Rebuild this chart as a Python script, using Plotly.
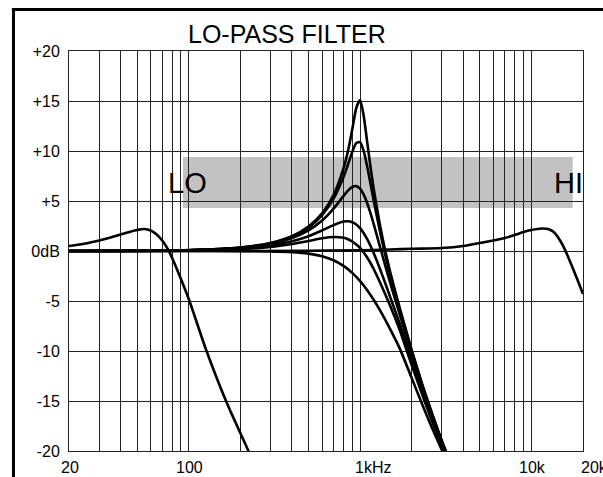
import math
import plotly.graph_objects as go

# ---------------- data ----------------
# Low-frequency lo-pass curve (LO)
lo_freq = [20, 25, 30, 35, 40, 45, 50, 55, 60, 65, 70, 76, 80, 90, 100, 127, 165, 223, 250]
lo_db = [0.5, 0.75, 1.05, 1.35, 1.65, 1.9, 2.1, 2.2, 2.05, 1.65, 1.05, 0.1, -0.7, -2.8, -4.8, -10.0, -15.0, -20.0, -22.0]

# High-frequency lo-pass curve (HI)
hi_freq = [20, 100, 500, 1000, 1500, 2000, 3000, 4000, 5000, 6000, 7000, 8000, 9000, 10000,
           11500, 12500, 13500, 15000, 16000, 18000, 20000]
hi_db = [0.0, 0.0, 0.02, 0.08, 0.15, 0.22, 0.3, 0.5, 0.8, 1.05, 1.3, 1.6, 1.9, 2.1,
         2.25, 2.2, 1.9, 0.8, -0.2, -2.3, -4.3]

# Resonant lo-pass family around 1 kHz
mid_freq = [20, 100, 200, 300, 400, 500, 600, 700, 800, 850, 900, 950, 1000, 1050, 1100,
            1150, 1200, 1300, 1400, 1500, 1700, 2000, 2300, 2600, 3000, 3300, 3600]
res_a = [0, 0.09, 0.35, 0.8, 1.48, 2.44, 3.76, 5.6, 8.26, 10.0, 12.15, 14.3, 15.1, 13.5, 10.9,
         8.4, 6.24, 2.77, 0.08, -2.13, -5.64, -9.9, -13.3, -16.0, -19.0, -20.8, -22.4]
res_b = [0, 0.08, 0.34, 0.78, 1.43, 2.34, 3.58, 5.23, 7.4, 8.66, 9.91, 10.8, 10.88, 9.98, 8.45,
         6.74, 5.07, 2.12, -0.34, -2.42, -5.81, -10.0, -13.35, -16.05, -19.0, -20.85, -22.4]
res_c = [0, 0.08, 0.31, 0.71, 1.29, 2.06, 3.05, 4.24, 5.5, 6.04, 6.4, 6.49, 6.23, 5.64, 4.79,
         3.78, 2.71, 0.56, -1.42, -3.22, -6.29, -10.3, -13.55, -16.2, -19.1, -20.9, -22.5]
res_d = [0, 0.06, 0.24, 0.55, 0.97, 1.48, 2.06, 2.59, 2.94, 2.97, 2.88, 2.65, 2.28, 1.78, 1.19,
         0.52, -0.2, -1.69, -3.18, -4.62, -7.23, -10.9, -13.9, -16.5, -19.3, -21.1, -22.7]
res_e = [0, 0.04, 0.18, 0.4, 0.7, 1.0, 1.27, 1.4, 1.32, 1.18, 0.95, 0.65, 0.3, -0.15, -0.65,
         -1.2, -1.8, -3.05, -4.3, -5.5, -7.85, -11.4, -14.3, -16.8, -19.5, -21.3, -22.9]
res_f = [0, 0, -0.01, -0.035, -0.11, -0.26, -0.53, -0.93, -1.49, -1.82, -2.19, -2.59, -3.01, -3.45, -3.92,
         -4.39, -4.88, -5.86, -6.85, -7.83, -9.71, -12.7, -15.3, -17.5, -19.9, -21.6, -23.1]

# Axis ticks / grid
x_grid = [20, 30, 40, 50, 60, 70, 80, 90,
          100, 200, 300, 400, 500, 600, 700, 800, 900,
          1000, 2000, 3000, 4000, 5000, 6000, 7000, 8000, 9000,
          10000, 20000]
x_label_vals = [20, 100, 1000, 10000, 20000]
x_label_text = ["20", "100", "1kHz", "10k", "20k"]
y_vals = [20, 15, 10, 5, 0, -5, -10, -15, -20]
y_text = ["+20", "+15", "+10", "+5", "0dB", "-5", "-10", "-15", "-20"]

title_text = "LO-PASS FILTER"
band_lo, band_hi = 4.3, 9.4

FONT = "Liberation Sans, Arial, Helvetica, sans-serif"

# ---------------- figure ----------------
fig = go.Figure()
line_style = dict(color="black", width=2.6)

fig.add_trace(go.Scatter(x=lo_freq, y=lo_db, mode="lines", line=dict(shape="spline", smoothing=0.8, **line_style)))
fig.add_trace(go.Scatter(x=hi_freq, y=hi_db, mode="lines", line=dict(shape="spline", smoothing=0.8, **line_style)))
for series in [res_f, res_e, res_d, res_c, res_b, res_a]:
    fig.add_trace(go.Scatter(x=mid_freq, y=series, mode="lines",
                             line=dict(shape="spline", smoothing=0.6, **line_style)))

annotations = []
for v, t in zip(x_label_vals, x_label_text):
    if t == "1kHz":
        anchor, shift = "left", -7
    elif t == "20k":
        anchor, shift = "left", -4
    else:
        anchor, shift = "center", 1
    annotations.append(dict(x=math.log10(v), xref="x", y=0, yref="paper", yanchor="top",
                            xanchor=anchor, xshift=shift, yshift=-6, text=t, showarrow=False,
                            font=dict(family=FONT, size=16, color="black")))

annotations.append(dict(x=0.4234, xref="paper", y=1.0425, yref="paper", xanchor="center", yanchor="middle",
                        text=title_text, showarrow=False, font=dict(family=FONT, size=25, color="black")))
annotations.append(dict(x=0.1887, xref="paper", y=6.85, yref="y", xanchor="left", yanchor="middle",
                        text="LO", showarrow=False, font=dict(family=FONT, size=29, color="black")))
annotations.append(dict(x=1.004, xref="paper", y=6.85, yref="y", xanchor="right", yanchor="middle",
                        text="HI", showarrow=False, font=dict(family=FONT, size=29, color="black")))

shapes = [
    dict(type="rect", xref="paper", yref="y", x0=0.2218, x1=0.9800, y0=band_lo, y1=band_hi,
         fillcolor="#c2c2c2", line=dict(width=0), layer="below"),
    dict(type="line", xref="paper", yref="paper", x0=-0.108, x1=-0.108, y0=-0.3, y1=1.1075,
         line=dict(color="black", width=3)),
    dict(type="line", xref="paper", yref="paper", x0=-0.111, x1=1.2, y0=1.104, y1=1.104,
         line=dict(color="black", width=3)),
]

fig.update_layout(
    width=603, height=477,
    margin=dict(l=69, r=20, t=51, b=26, pad=0),
    paper_bgcolor="white", plot_bgcolor="white",
    showlegend=False,
    annotations=annotations,
    shapes=shapes,
    font=dict(family=FONT, size=16, color="black"),
)
fig.update_xaxes(type="log", range=[math.log10(20), math.log10(20000)],
                 tickvals=x_grid, showticklabels=False, ticks="",
                 showgrid=True, gridcolor="#222222", gridwidth=1,
                 showline=True, linecolor="#222222", linewidth=1, mirror=True, zeroline=False)
fig.update_yaxes(range=[-20, 20], tickvals=y_vals, ticktext=y_text, ticks="",
                 ticklabelstandoff=5,
                 tickfont=dict(family=FONT, size=16, color="black"),
                 showgrid=True, gridcolor="#222222", gridwidth=1,
                 showline=True, linecolor="#222222", linewidth=1, mirror=True, zeroline=False)

fig.write_html("out.html",
               config={"displayModeBar": False, "staticPlot": True},
               post_script="document.body.style.margin='0';document.body.style.padding='0';")
